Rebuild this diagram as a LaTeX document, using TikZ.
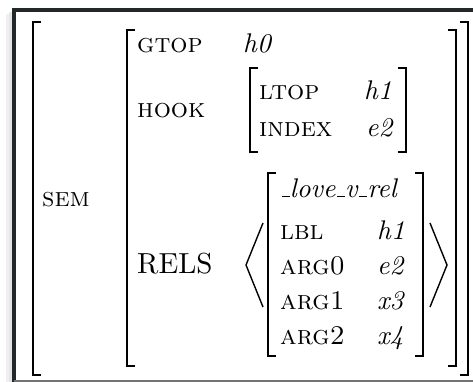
\documentclass[tikz,border=0pt]{standalone}
\usepackage{fontspec}
\setmainfont{lmroman10-regular.otf}[
  ItalicFont=lmroman10-italic.otf,
  SmallCapsFont=lmromancaps10-regular.otf]
\usetikzlibrary{calc}
\definecolor{framecol}{RGB}{34,40,42}
% short low rule, as the classic \_ of Computer Modern
\newcommand{\lowbar}{\kern.06em\vbox{\hrule width.3em height .05em}}
\begin{document}
\begin{tikzpicture}[x=1pt,y=-1pt,
  feat/.style={anchor=base west, inner sep=0pt, font=\fontsize{27}{32}\selectfont\scshape},
  val/.style={anchor=base west, inner sep=0pt, font=\fontsize{27}{32}\selectfont\itshape},
  bigfeat/.style={anchor=base west, inner sep=0pt, font=\fontsize{29}{34}\selectfont},
  brk/.style={line width=2pt},
  angl/.style={line width=1.4pt}]
\useasboundingbox (0,0) rectangle (473,382);
\fill[white] (0,0) rectangle (473,382);
% soft shadow of the frame
\fill[black!6] (6,14) rectangle (12,382);
\fill[black!10] (9,12) rectangle (12,382);
% frame
\draw[framecol, line width=4pt] (14,382) -- (14,10) -- (473,10);
\draw[black!55, line width=2pt] (14,381) -- (473,381);

% outer matrix: SEM
\draw[brk] (41,22) -| (33,375) -- (41,375);
\draw[brk] (460,22) -| (468,375) -- (460,375);
\node[feat] (sem) at (42,206) {sem};

% SEM value
\draw[brk] (135,30) -| (127,366) -- (135,366);
\draw[brk] (448,30) -| (456,366) -- (448,366);

\node[feat] (gtop) at (137,53) {gtop};
\node[val] (h0) at (243,53) {h0};

\node[feat] (hook) at (137,118) {hook};
\draw[brk] (258,68) -| (250,152) -- (258,152);
\draw[brk] (398,68) -| (406,152) -- (398,152);
\node[feat] (ltop) at (259,100) {ltop};
\node[val] (hookh) at (364,100) {h1};
\node[feat] (index) at (259,137) {index};
\node[val] (hooke) at (366,137) {e2};

\node[bigfeat] (rels) at (137,273) {RELS};
\draw[angl] (263,223) -- (246,265) -- (263,307);
\draw[angl] (430,223) -- (447,265) -- (430,307);
\draw[brk] (276,173) -| (268,356) -- (276,356);
\draw[brk] (415,173) -| (423,356) -- (415,356);
\node[val] (pred) at (280,197) {\lowbar love\lowbar v\lowbar rel};
\node[feat] (lbl) at (280,239) {lbl};
\node[val] (lblv) at (377,239) {h1};
\node[feat] (arg0) at (280,274) {arg0};
\node[val] (arg0v) at (377,274) {e2};
\node[feat] (arg1) at (280,309) {arg1};
\node[val] (arg1v) at (377,309) {x3};
\node[feat] (arg2) at (280,344) {arg2};
\node[val] (arg2v) at (377,344) {x4};
\end{tikzpicture}
\end{document}
